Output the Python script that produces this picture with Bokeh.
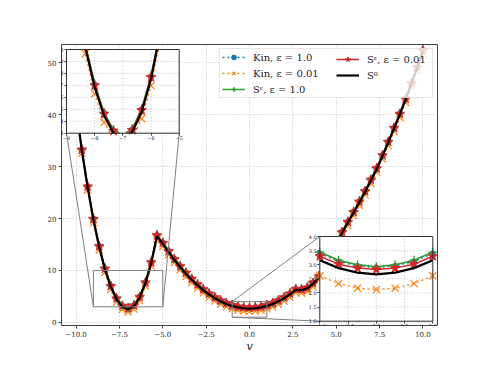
import numpy as np
from bokeh.plotting import figure
from bokeh.models import Range1d, LinearAxis, FixedTicker, Legend, LegendItem
from bokeh.embed import file_html
from bokeh.resources import INLINE

# ---------------- data ----------------
v_grid = np.linspace(-10, 10, 61)

kin_eps1 = [41.54, 33.34, 26.24, 19.99, 14.74, 10.44, 7.09, 4.7, 3.27, 2.79, 3.34, 5.0, 7.77, 11.64, 16.84,
            15.4, 13.79, 12.29, 10.9, 9.62, 8.46, 7.4, 6.46, 5.62, 4.9, 4.29, 3.79, 3.4, 3.12, 2.96, 2.9,
            2.96, 3.12, 3.4, 3.79, 4.29, 4.9, 5.62, 6.49, 6.44, 6.79, 7.64, 8.94, 10.84, 13.04, 15.24,
            17.44, 19.44, 21.34, 23.34, 25.34, 27.54, 29.74, 32.24, 34.84, 37.54, 40.24, 43.14, 46.14, 49.24, 52.44]
kin_eps001 = [40.75, 32.55, 25.45, 19.2, 13.95, 9.65, 6.3, 3.91, 2.48, 2.0, 2.55, 4.21, 6.98, 10.85, 16.05,
              14.61, 13.0, 11.5, 10.11, 8.83, 7.67, 6.61, 5.67, 4.83, 4.11, 3.5, 3.0, 2.61, 2.33, 2.17, 2.12,
              2.17, 2.33, 2.61, 3.0, 3.5, 4.11, 4.83, 5.7, 5.65, 6.0, 6.85, 8.15, 10.05, 12.25, 14.45,
              16.65, 18.65, 20.55, 22.55, 24.55, 26.75, 28.95, 31.45, 34.05, 36.75, 39.45, 42.35, 45.35, 48.45, 51.65]
s_eps1 = [41.58, 33.38, 26.28, 20.03, 14.78, 10.48, 7.13, 4.74, 3.31, 2.83, 3.38, 5.04, 7.81, 11.68, 16.88,
          15.44, 13.83, 12.33, 10.94, 9.66, 8.5, 7.44, 6.5, 5.66, 4.94, 4.33, 3.83, 3.45, 3.16, 3.0, 2.93,
          3.0, 3.16, 3.45, 3.83, 4.33, 4.94, 5.66, 6.53, 6.48, 6.83, 7.68, 8.98, 10.88, 13.08, 15.28,
          17.48, 19.48, 21.38, 23.38, 25.38, 27.58, 29.78, 32.28, 34.88, 37.58, 40.28, 43.18, 46.18, 49.28, 52.48]
s_eps001 = [41.45, 33.25, 26.15, 19.9, 14.65, 10.35, 7.0, 4.61, 3.18, 2.7, 3.25, 4.91, 7.68, 11.55, 16.75,
            15.31, 13.7, 12.2, 10.81, 9.53, 8.37, 7.31, 6.37, 5.53, 4.81, 4.2, 3.7, 3.3, 3.02, 2.88, 2.83,
            2.88, 3.02, 3.3, 3.7, 4.2, 4.81, 5.53, 6.4, 6.35, 6.7, 7.55, 8.85, 10.75, 12.95, 15.15,
            17.35, 19.35, 21.25, 23.25, 25.25, 27.45, 29.65, 32.15, 34.75, 37.45, 40.15, 43.05, 46.05, 49.15, 52.35]
s_zero = [41.3, 33.1, 26.0, 19.75, 14.5, 10.2, 6.85, 4.46, 3.03, 2.55, 3.10, 4.76, 7.53, 11.4, 16.6,
          15.16, 13.55, 12.05, 10.66, 9.38, 8.22, 7.16, 6.22, 5.38, 4.66, 4.05, 3.55, 3.16, 2.88, 2.72, 2.66,
          2.72, 2.88, 3.16, 3.55, 4.05, 4.66, 5.38, 6.25, 6.20, 6.55, 7.40, 8.70, 10.6, 12.8, 15.0,
          17.2, 19.2, 21.1, 23.1, 25.1, 27.3, 29.5, 32.0, 34.6, 37.3, 40.0, 42.9, 45.9, 49.0, 52.2]

series_labels = ["Kin, ε = 1.0", "Kin, ε = 0.01", "Sᵋ, ε = 1.0", "Sᵋ, ε = 0.01", "S⁰"]

x_ticks = [-10, -7.5, -5, -2.5, 0, 2.5, 5, 7.5, 10]
x_tick_labels = ["−10.0", "−7.5", "−5.0", "−2.5", "0.0", "2.5", "5.0", "7.5", "10.0"]
y_ticks = [0, 10, 20, 30, 40, 50]
y_tick_labels = ["0", "10", "20", "30", "40", "50"]

in1_x_ticks = [-9, -8, -7, -6, -5]
in1_x_labels = ["−9", "−8", "−7", "−6", "−5"]
in1_y_ticks = [3, 4, 5, 6, 7, 8, 9, 10]
in1_y_labels = ["3", "4", "5", "6", "7", "8", "9", "10"]
in2_x_ticks = [-1, -0.5, 0, 0.5, 1]
in2_x_labels = ["−1.0", "−0.5", "0.0", "0.5", "1.0"]
in2_y_ticks = [1, 1.5, 2, 2.5, 3, 3.5, 4]
in2_y_labels = ["1.0", "1.5", "2.0", "2.5", "3.0", "3.5", "4.0"]

# ---------------- layout constants ----------------
X_LIM = (-10.84, 10.84)
Y_LIM = (-0.6, 53.5)
FW, FH = 376, 281
SERIF = "DejaVu Serif"

# inset boxes: limits and (left, bottom, width, height) in px inside the frame
INSETS = [
    dict(name="i1", xlim=(-9, -5), ylim=(3, 10), box=(5, 192.3, 112.7, 83.7),
         xt=in1_x_ticks, xl=in1_x_labels, yt=in1_y_ticks, yl=in1_y_labels,
         corners=[("left", "bottom"), ("right", "bottom")]),
    dict(name="i2", xlim=(-1, 1), ylim=(1, 4), box=(258.3, 4.3, 113, 84.7),
         xt=in2_x_ticks, xl=in2_x_labels, yt=in2_y_ticks, yl=in2_y_labels,
         corners=[("left", "top"), ("left", "bottom")]),
]

styles = [
    dict(color="#1f77b4", dash="2 3", lw=1.4, marker="circle", size=5, mlw=1),
    dict(color="#ff7f0e", dash="2 3", lw=1.4, marker="x", size=10, mlw=1.2),
    dict(color="#2ca02c", dash="solid", lw=1.5, marker="cross", size=9, mlw=1.3),
    dict(color="#d62728", dash="solid", lw=1.5, marker="star", size=10, mlw=1),
    dict(color="black", dash="solid", lw=2.2, marker=None, size=0, mlw=0),
]
series_values = [kin_eps1, kin_eps001, s_eps1, s_eps001, s_zero]

p = figure(width=478, height=357, min_border_left=61, min_border_right=41,
           min_border_top=44, min_border_bottom=32,
           x_range=Range1d(*X_LIM), y_range=Range1d(*Y_LIM),
           output_backend="svg", toolbar_location=None)
p.background_fill_color = "white"
p.border_fill_color = "white"
p.outline_line_color = "#404040"
p.outline_line_width = 1

for ax, ticks, labels in ((p.xaxis[0], x_ticks, x_tick_labels), (p.yaxis[0], y_ticks, y_tick_labels)):
    ax.ticker = FixedTicker(ticks=ticks)
    ax.major_label_overrides = {t: l for t, l in zip(ticks, labels)}
    ax.axis_line_color = None
    ax.major_tick_line_color = "#404040"
    ax.major_tick_out = 3
    ax.major_tick_in = 0
    ax.minor_tick_line_color = None
    ax.major_label_standoff = 2
    ax.major_label_text_font = SERIF
    ax.major_label_text_font_size = "7px"
    ax.major_label_text_color = "#222222"
p.xaxis.axis_label = "v"
p.xaxis.axis_label_text_font = SERIF
p.xaxis.axis_label_text_font_style = "italic"
p.xaxis.axis_label_text_font_size = "11px"
p.xaxis.axis_label_standoff = 0
p.xaxis.axis_label_text_color = "#222222"

p.xgrid.ticker = FixedTicker(ticks=x_ticks)
p.ygrid.ticker = FixedTicker(ticks=y_ticks)
p.grid.grid_line_color = "#bdbdbd"
p.grid.grid_line_dash = "1 2"
p.grid.grid_line_width = 0.9

# ---------------- main series ----------------
legend_renderers = []
for vals, st in zip(series_values, styles):
    rs = [p.line(v_grid, vals, line_color=st["color"], line_width=st["lw"], line_dash=st["dash"])]
    if st["marker"]:
        rs.append(p.scatter(v_grid, vals, marker=st["marker"], size=st["size"],
                            line_color=st["color"], fill_color=st["color"], line_width=st["mlw"]))
    legend_renderers.append(rs)


# ---------------- helpers ----------------
def clip_segment(x0, y0, x1, y1, xmin, xmax, ymin, ymax):
    dx, dy = x1 - x0, y1 - y0
    t0, t1 = 0.0, 1.0
    for pp, qq in ((-dx, x0 - xmin), (dx, xmax - x0), (-dy, y0 - ymin), (dy, ymax - y0)):
        if pp == 0:
            if qq < 0:
                return None
        else:
            t = qq / pp
            if pp < 0:
                if t > t1:
                    return None
                t0 = max(t0, t)
            else:
                if t < t0:
                    return None
                t1 = min(t1, t)
    return (x0 + t0 * dx, y0 + t0 * dy, x0 + t1 * dx, y0 + t1 * dy)


def clip_polyline(xs, ys, xlim, ylim):
    pieces, cx, cy = [], [], []
    for i in range(len(xs) - 1):
        seg = clip_segment(xs[i], ys[i], xs[i + 1], ys[i + 1], xlim[0], xlim[1], ylim[0], ylim[1])
        if seg is None:
            if cx:
                pieces.append((cx, cy))
                cx, cy = [], []
            continue
        ax_, ay_, bx_, by_ = seg
        if cx and abs(cx[-1] - ax_) < 1e-9 and abs(cy[-1] - ay_) < 1e-9:
            cx.append(bx_)
            cy.append(by_)
        else:
            if cx:
                pieces.append((cx, cy))
            cx, cy = [ax_, bx_], [ay_, by_]
    if cx:
        pieces.append((cx, cy))
    return pieces


def inset_range(lim, offset, size, frame):
    k = (lim[1] - lim[0]) / size
    start = lim[0] - offset * k
    return Range1d(start, start + frame * k)


# ---------------- insets ----------------
for ins in INSETS:
    nx, ny = ins["name"] + "x", ins["name"] + "y"
    left, bottom, w, h = ins["box"]
    (x0, x1), (y0, y1) = ins["xlim"], ins["ylim"]
    p.extra_x_ranges[nx] = inset_range(ins["xlim"], left, w, FW)
    p.extra_y_ranges[ny] = inset_range(ins["ylim"], bottom, h, FH)

    # indicator rectangle on the main axes
    p.quad(left=[x0], right=[x1], bottom=[y0], top=[y1], fill_color=None,
           line_color="#808080", line_width=1)
    # connector lines: rect corner (main coords) -> inset corner (converted to main coords)
    sx = {"left": left, "right": left + w}
    sy = {"bottom": bottom, "top": bottom + h}
    dx = {"left": x0, "right": x1}
    dy = {"bottom": y0, "top": y1}
    for cxk, cyk in ins["corners"]:
        mx = X_LIM[0] + sx[cxk] / FW * (X_LIM[1] - X_LIM[0])
        my = Y_LIM[0] + sy[cyk] / FH * (Y_LIM[1] - Y_LIM[0])
        p.segment(x0=[dx[cxk]], y0=[dy[cyk]], x1=[mx], y1=[my], line_color="#808080", line_width=1)

    kw = dict(x_range_name=nx, y_range_name=ny)
    p.quad(left=[x0], right=[x1], bottom=[y0], top=[y1], fill_color="white", line_color=None, **kw)
    p.segment(x0=ins["xt"], y0=[y0] * len(ins["xt"]), x1=ins["xt"], y1=[y1] * len(ins["xt"]),
              line_color="#bdbdbd", line_dash="1 2", line_width=0.9, **kw)
    p.segment(x0=[x0] * len(ins["yt"]), y0=ins["yt"], x1=[x1] * len(ins["yt"]), y1=ins["yt"],
              line_color="#bdbdbd", line_dash="1 2", line_width=0.9, **kw)

    for vals, st in zip(series_values, styles):
        pieces = clip_polyline(list(v_grid), vals, ins["xlim"], ins["ylim"])
        if pieces:
            p.multi_line([pc[0] for pc in pieces], [pc[1] for pc in pieces],
                         line_color=st["color"], line_width=st["lw"], line_dash=st["dash"], **kw)
        if st["marker"]:
            px = [xv for xv, yv in zip(v_grid, vals) if x0 - 1e-9 <= xv <= x1 + 1e-9 and y0 <= yv <= y1]
            py = [yv for xv, yv in zip(v_grid, vals) if x0 - 1e-9 <= xv <= x1 + 1e-9 and y0 <= yv <= y1]
            if px:
                p.scatter(px, py, marker=st["marker"], size=st["size"], line_color=st["color"],
                          fill_color=st["color"], line_width=st["mlw"], **kw)

    p.quad(left=[x0], right=[x1], bottom=[y0], top=[y1], fill_color=None,
           line_color="#333333", line_width=1, **kw)

    xa = LinearAxis(x_range_name=nx, y_range_name=ny, fixed_location=y0, bounds=(x0, x1),
                    ticker=FixedTicker(ticks=ins["xt"]),
                    major_label_overrides={t: l for t, l in zip(ins["xt"], ins["xl"])})
    ya = LinearAxis(x_range_name=nx, y_range_name=ny, fixed_location=x0, bounds=(y0, y1),
                    ticker=FixedTicker(ticks=ins["yt"]),
                    major_label_overrides={t: l for t, l in zip(ins["yt"], ins["yl"])})
    for a in (xa, ya):
        a.axis_line_color = None
        a.major_tick_line_color = "#333333"
        a.major_tick_out = 2
        a.major_tick_in = 0
        a.minor_tick_line_color = None
        a.major_label_standoff = 1
        a.major_label_text_font = SERIF
        a.major_label_text_font_size = "5px"
        a.major_label_text_color = "#222222"
    p.add_layout(xa, "below")
    p.add_layout(ya, "left")

# ---------------- legend (two columns) ----------------
leg_common = dict(label_text_font=SERIF, label_text_font_size="10px", label_text_color="#222222",
                  glyph_width=23, glyph_height=12, label_height=12, label_standoff=8,
                  spacing=4, padding=2)
items_a = [LegendItem(label=series_labels[i], renderers=legend_renderers[i]) for i in (0, 1, 2)]
items_b = [LegendItem(label=series_labels[i], renderers=legend_renderers[i]) for i in (3, 4)]
leg_a = Legend(items=items_a, location="top_right", margin=4, label_width=177,
               border_line_color="#cccccc", border_line_width=1,
               background_fill_color="white", background_fill_alpha=0.8, **leg_common)
leg_b = Legend(items=items_b, location=(275, 244), margin=0, label_width=60,
               border_line_color=None, background_fill_alpha=0, **leg_common)
p.add_layout(leg_a)
p.add_layout(leg_b)

open("out.html", "w").write(file_html(p, INLINE))
